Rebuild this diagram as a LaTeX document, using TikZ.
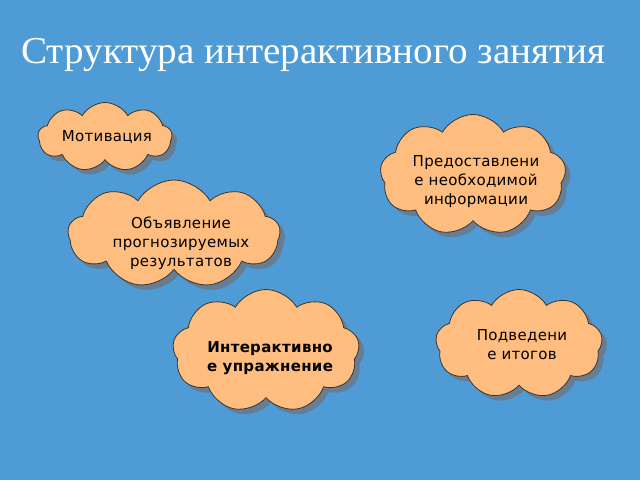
\documentclass[tikz,border=0pt]{standalone}
\usepackage{fontspec}
\setmainfont{Liberation Serif}
\newfontfamily\cloudfont[LetterSpace=2]{DejaVu Sans}
\usetikzlibrary{shapes.symbols,shadows}
\definecolor{bgblue}{RGB}{79,155,213}
\definecolor{cloudfill}{RGB}{255,189,128}
\definecolor{cloudline}{RGB}{60,52,45}
\definecolor{shadowgray}{RGB}{110,115,125}
\tikzset{
  cloudbox/.style={cloud, cloud puffs=9, cloud puff arc=120, cloud ignores aspect,
    draw=cloudline, line width=0.8pt, fill=cloudfill, inner sep=0pt,
    drop shadow={shadow xshift=5pt, shadow yshift=-5pt, fill=shadowgray, opacity=0.75}},
  cloudtext/.style={align=center, text=black, font=\cloudfont\fontsize{15}{19}\selectfont},
  titletext/.style={text=white, font=\fontsize{38}{40}\selectfont}
}
\begin{document}
\begin{tikzpicture}[x=1pt,y=-1pt]
\fill[bgblue] (0,0) rectangle (640,480);
\useasboundingbox (0,0) rectangle (640,480);
\node[titletext] (title) at (313.5,55) {\scalebox{1.03}[1]{Структура интерактивного занятия}};

\node[cloudbox, minimum width=134pt, minimum height=69pt] (c1) at (105,137) {};
\node[cloudbox, minimum width=186pt, minimum height=121pt] (c2) at (473,175) {};
\node[cloudbox, minimum width=212pt, minimum height=108pt] (c3) at (174,234) {};
\node[cloudbox, minimum width=187pt, minimum height=123pt] (c4) at (266,351) {};
\node[cloudbox, minimum width=167pt, minimum height=109pt] (c5) at (519,344) {};

\node[cloudtext] (t1) at (107,137) {Мотивация};
\node[cloudtext] (t2) at (476,182) {Предоставлени\\е необходимой\\информации};
\node[cloudtext] (t3) at (181,243) {Объявление\\прогнозируемых\\результатов};
\node[cloudtext, font=\cloudfont\bfseries\fontsize{15}{19}\selectfont] (t4) at (270,358) {Интерактивно\\е упражнение};
\node[cloudtext] (t5) at (522,345) {Подведени\\е итогов};
\end{tikzpicture}
\end{document}
